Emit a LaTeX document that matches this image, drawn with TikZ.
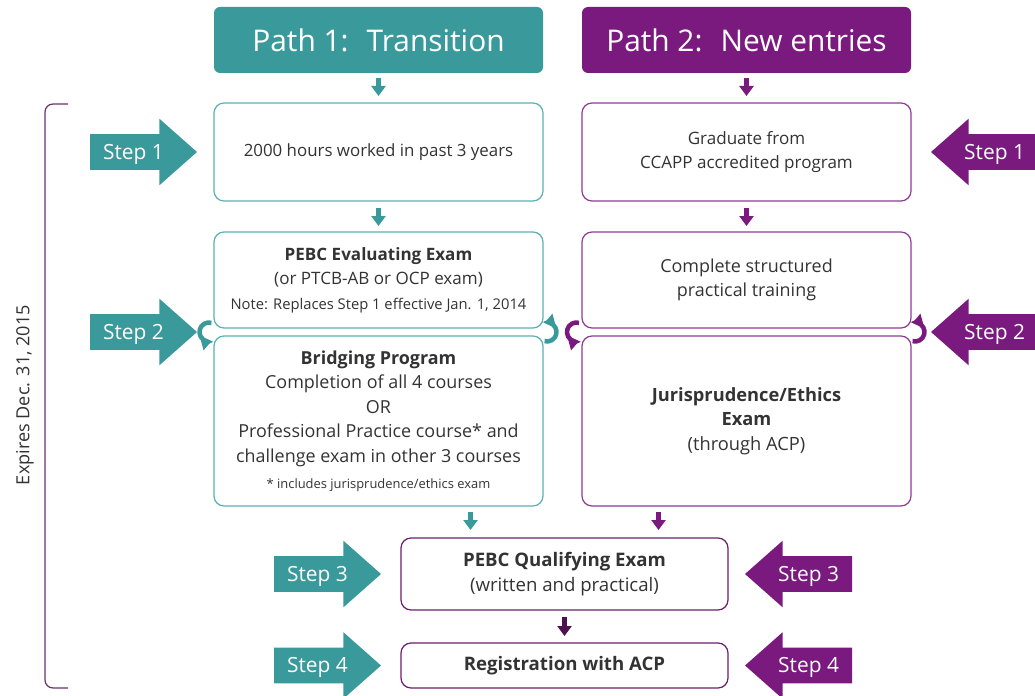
\documentclass[tikz,border=0pt]{standalone}
\usepackage{fontspec}
\setmainfont{Open Sans}
\usetikzlibrary{arrows.meta, positioning, shapes.arrows, calc}
\definecolor{pteal}{HTML}{3A9A9B}
\definecolor{ptealline}{HTML}{5BB0B1}
\definecolor{ppurple}{HTML}{7B1A7E}
\definecolor{ppurpleline}{HTML}{8F3B93}
\definecolor{pdark}{HTML}{6A1F6C}
\definecolor{pdarker}{HTML}{4E1050}
\definecolor{ptext}{HTML}{333333}

\begin{document}
\begin{tikzpicture}[ node distance = 6mm and 7.8mm,
	head/.style = {rectangle, rounded corners=1.2mm, fill=#1, text=white, minimum width=6.58cm, minimum height=1.32cm, inner sep=0mm, outer sep=0mm, font=\fontsize{17}{20}\selectfont},
	box/.style = {rectangle, rounded corners=2mm, draw=#1, line width=0.7pt, text=ptext, align=center, minimum width=6.58cm, inner sep=0mm, outer sep=0mm, font=\fontsize{10.2}{13.9}\selectfont},
	SA/.style = {% Step Arrow
		single arrow, fill=#1, text=white, single arrow head extend=3.1mm,
		single arrow tip angle=83, minimum height=21.4mm, inner xsep=1mm,
		inner ysep=5.7pt, text height=8.5pt, text depth=0pt, outer sep=0mm,
		font=\fontsize{11.9}{14}\selectfont},
	SL/.style = {SA=pteal},
	SR/.style = {SA=ppurple, shape border rotate=180},
	DA/.style = {% Down Arrow
		draw=#1, line width=1mm, -{Triangle[width=2.8mm, length=2mm]}},
	CA/.style = {% Curl Arrow
		draw=#1, line width=0.9mm, -{Triangle[width=2.6mm, length=2mm]}}]
\useasboundingbox (0,0) rectangle (20.7,-13.92);

% path headers
\node[head=pteal] (h1) at (7.57,-0.8) {Path 1:~ Transition};
\node[head=ppurple, right=of h1] (h2) {Path 2:~ New entries};

% path 1 boxes
\node[box=ptealline, minimum height=19.6mm, font=\fontsize{9.6}{13.9}\selectfont, below=of h1] (a1) {2000 hours worked in past 3 years};
\node[box=ptealline, minimum height=19.2mm, font=\fontsize{9.7}{13.9}\selectfont, below=6.2mm of a1] (a2) {\textbf{PEBC Evaluating Exam}\\(or PTCB-AB or OCP exam)\\{\fontsize{8.4}{11}\selectfont Note: Replaces Step 1 effective Jan. 1, 2014}};
\node[box=ptealline, minimum height=34mm, below=1.6mm of a2] (a3) {\textbf{Bridging Program}\\Completion of all 4 courses\\OR\\Professional Practice course* and\\challenge exam in other 3 courses\\[1pt]{\fontsize{7.35}{9}\selectfont * includes jurisprudence/ethics exam}};

% path 2 boxes
\node[box=ppurpleline, minimum height=19.6mm, font=\fontsize{9.7}{13.9}\selectfont, right=of a1] (b1) {Graduate from\\CCAPP accredited program};
\node[box=ppurpleline, minimum height=19.2mm, right=of a2] (b2) {Complete structured\\practical training};
\node[box=ppurpleline, minimum height=34mm, font=\fontsize{10.4}{13.9}\selectfont, right=of a3] (b3) {\textbf{Jurisprudence/Ethics}\\\textbf{Exam}\\(through ACP)};

% common boxes
\node[box=pdark, minimum width=6.54cm, minimum height=14.4mm, font=\fontsize{10.6}{14}\selectfont] (c1) at (11.29,-11.48) {\textbf{PEBC Qualifying Exam}\\(written and practical)};
\node[box=pdark, minimum width=6.54cm, minimum height=9mm, font=\fontsize{10.6}{14}\selectfont, below=6.6mm of c1] (c2) {\textbf{Registration with ACP}};

% gaps of step 2
\coordinate (gl) at ($(a2.south west)!.5!(a3.north west)$);
\coordinate (gml) at ($(a2.south east)!.5!(a3.north east)$);
\coordinate (gmr) at ($(b2.south west)!.5!(b3.north west)$);
\coordinate (gr) at ($(b2.south east)!.5!(b3.north east)$);

% step arrows
\node[SL, left=3.4mm of a1, anchor=tip] (s1l) {Step 1};
\node[SL, left=3.4mm of gl, anchor=tip] (s2l) {Step 2};
\node[SL, left=4mm of c1, anchor=tip] (s3l) {Step 3};
\node[SL, left=4mm of c2, anchor=tip] (s4l) {Step 4};
\node[SR, right=4mm of b1, anchor=tip] (s1r) {Step 1};
\node[SR, right=4mm of gr, anchor=tip] (s2r) {Step 2};
\node[SR, right=3.4mm of c1, anchor=tip] (s3r) {Step 3};
\node[SR, right=3.4mm of c2, anchor=tip] (s4r) {Step 4};

% arrows between nodes
\draw[DA=pteal] ([yshift=-1mm]h1.south) -- ([yshift=1.4mm]a1.north);
\draw[DA=ppurple] ([yshift=-1mm]h2.south) -- ([yshift=1.4mm]b1.north);
\draw[DA=pteal] ([yshift=-1.4mm]a1.south) -- ([yshift=1.2mm]a2.north);
\draw[DA=ppurple] ([yshift=-1.4mm]b1.south) -- ([yshift=1.2mm]b2.north);
\draw[DA=pteal] ($(a3.south)+(1.84,-0.12)$) -- ($(a3.south |- c1.north)+(1.84,0.16)$);
\draw[DA=ppurple] ($(b3.south)+(-1.76,-0.12)$) -- ($(b3.south |- c1.north)+(-1.76,0.16)$);
\draw[DA=pdarker] ([yshift=-1.4mm]c1.south) -- ([yshift=1.4mm]c2.north);

% curl arrows in the gaps
\draw[CA=pteal] ($(gl)+(-1mm,0)+(75:1.9mm)$) arc[start angle=75, end angle=285, radius=1.9mm];
\draw[CA=pteal] ($(gml)+(0.8mm,0)+(-105:1.9mm)$) arc[start angle=-105, end angle=105, radius=1.9mm];
\draw[CA=ppurple] ($(gmr)+(-1.1mm,0)+(75:1.9mm)$) arc[start angle=75, end angle=285, radius=1.9mm];
\draw[CA=ppurple] ($(gr)+(0.8mm,0)+(-105:1.9mm)$) arc[start angle=-105, end angle=105, radius=1.9mm];

% expiry bracket
\draw[draw=pdarker!85, line width=0.7pt, rounded corners=1.6mm] (1.36,-2.08) -- (0.9,-2.08) -- (0.9,-13.76) -- (1.36,-13.76);
\node[rotate=90, text=ptext, font=\fontsize{10.3}{13}\selectfont] (exp) at (0.5,-7.9) {Expires Dec. 31, 2015};
\end{tikzpicture}
\end{document}
